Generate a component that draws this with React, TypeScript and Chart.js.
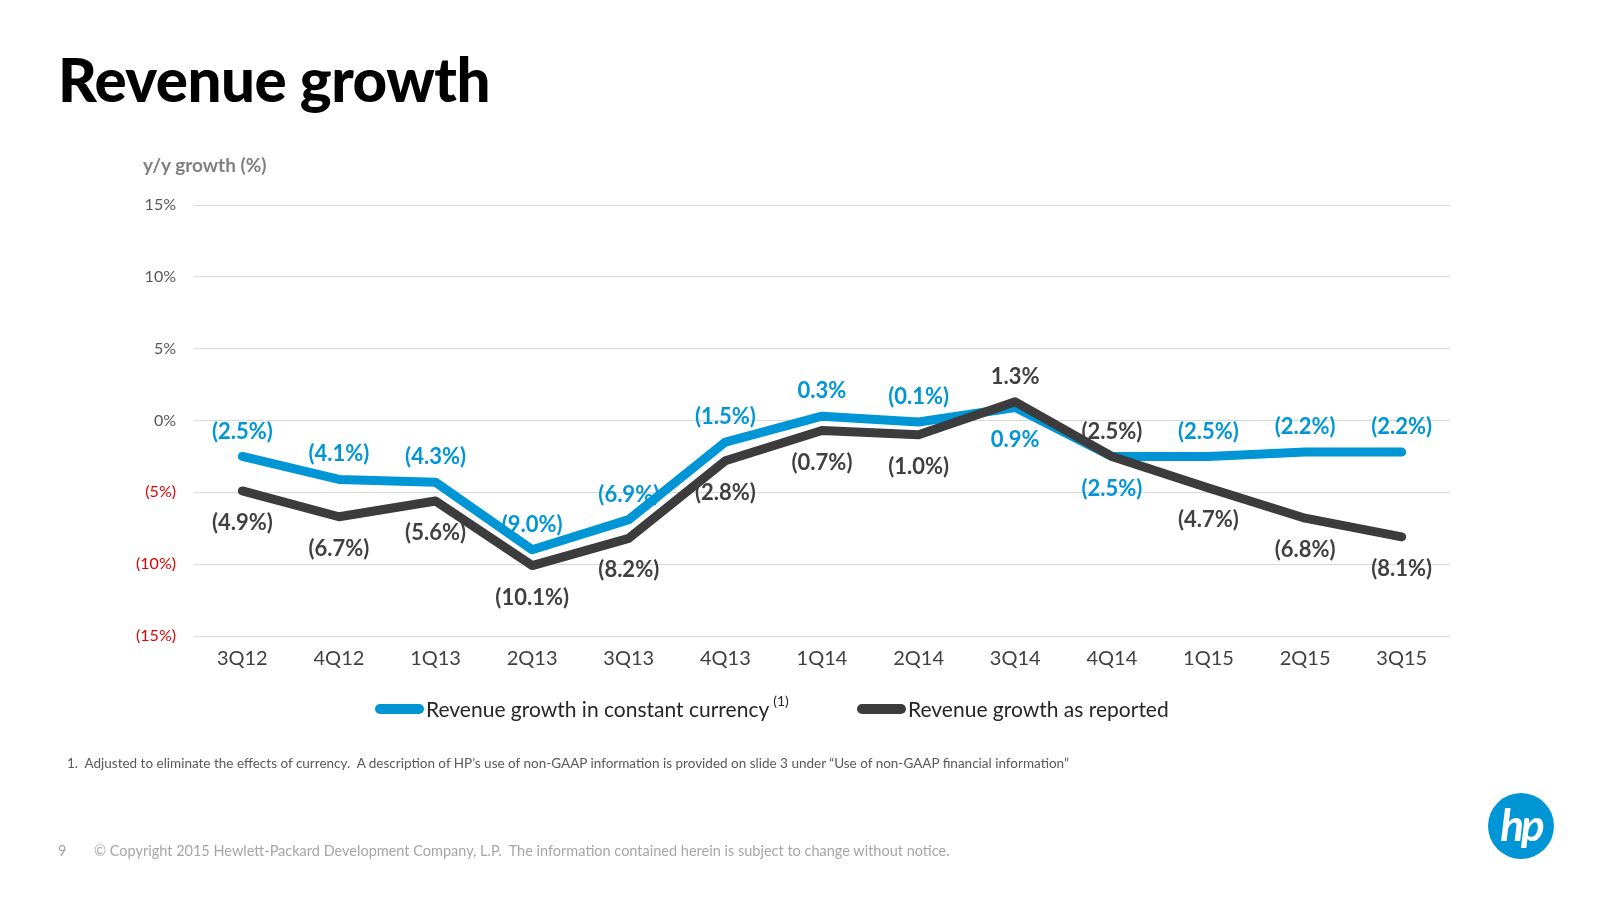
import React, { useEffect, useRef } from "react";
import { Chart, registerables } from "chart.js";

Chart.register(...registerables);

const categories = ["3Q12", "4Q12", "1Q13", "2Q13", "3Q13", "4Q13", "1Q14", "2Q14", "3Q14", "4Q14", "1Q15", "2Q15", "3Q15"];
const constantCurrency = [-2.5, -4.1, -4.3, -9.0, -6.9, -1.5, 0.3, -0.1, 0.9, -2.5, -2.5, -2.2, -2.2];
const asReported = [-4.9, -6.7, -5.6, -10.1, -8.2, -2.8, -0.7, -1.0, 1.3, -2.5, -4.7, -6.8, -8.1];
const yMin = -15;
const yMax = 15;
const yStep = 5;

const BLUE = "#0096D6";
const DARK = "#3C3C3C";
const FONT = "Lato, 'Open Sans', sans-serif";

const fmt = (v: number) => (v < 0 ? `(${Math.abs(v).toFixed(1)}%)` : `${v.toFixed(1)}%`);

const labelPlugin = {
  id: "pointLabels",
  afterDatasetsDraw(chart: any) {
    const ctx = chart.ctx;
    const sets = chart.data.datasets;
    ctx.save();
    ctx.font = `bold 22px ${FONT}`;
    ctx.textAlign = "center";
    ctx.textBaseline = "middle";
    sets.forEach((ds: any, di: number) => {
      const meta = chart.getDatasetMeta(di);
      const other = sets[1 - di].data as number[];
      meta.data.forEach((pt: any, i: number) => {
        const v = ds.data[i] as number;
        const o = other[i];
        const above = ds.tieAbove ? v >= o : v > o;
        ctx.fillStyle = ds.labelColor;
        ctx.fillText(fmt(v), pt.x, pt.y + (above ? -25 : 32));
      });
    });
    ctx.restore();
  },
};

function RevenueChart() {
  const ref = useRef<HTMLCanvasElement | null>(null);
  useEffect(() => {
    if (!ref.current) return;
    const chart = new Chart(ref.current, {
      type: "line",
      data: {
        labels: categories,
        datasets: [
          {
            label: "Revenue growth in constant currency",
            data: constantCurrency,
            borderColor: BLUE,
            backgroundColor: BLUE,
            borderWidth: 9,
            pointRadius: 0,
            borderJoinStyle: "round",
            borderCapStyle: "round",
            order: 1,
            labelColor: BLUE,
            tieAbove: false,
          } as any,
          {
            label: "Revenue growth as reported",
            data: asReported,
            borderColor: DARK,
            backgroundColor: DARK,
            borderWidth: 9,
            pointRadius: 0,
            borderJoinStyle: "round",
            borderCapStyle: "round",
            order: 0,
            labelColor: "#404040",
            tieAbove: true,
          } as any,
        ],
      },
      options: {
        animation: false,
        responsive: true,
        maintainAspectRatio: false,
        layout: { padding: { left: 0, top: 205, right: 150, bottom: 214 } },
        plugins: { legend: { display: false }, tooltip: { enabled: false } },
        scales: {
          x: {
            offset: true,
            grid: { display: false, drawTicks: false },
            border: { display: false },
            ticks: { color: "#404040", font: { family: FONT, size: 20 }, padding: 11 },
            afterFit: (s: any) => {
              s.height = 50;
            },
          },
          y: {
            min: yMin,
            max: yMax,
            grid: { color: "#D9D9D9", lineWidth: 1, drawTicks: false },
            border: { display: false },
            ticks: {
              stepSize: yStep,
              padding: 18,
              font: { family: FONT, size: 16 },
              color: (c: any) => (c.tick && c.tick.value < 0 ? "#E00000" : "#595959"),
              callback: (v: any) => (v < 0 ? `(${Math.abs(v)}%)` : `${v}%`),
            },
            afterFit: (s: any) => {
              s.width = 194;
            },
          },
        },
      },
      plugins: [labelPlugin],
    });
    return () => chart.destroy();
  }, []);
  return (
    <div style={{ position: "absolute", left: 0, top: 0, width: 1600, height: 900 }}>
      <canvas ref={ref} />
    </div>
  );
}

export default function App() {
  const legendMarker = (color: string): React.CSSProperties => ({
    display: "inline-block",
    width: 49,
    height: 10,
    borderRadius: 5,
    background: color,
    marginRight: 2,
    verticalAlign: "middle",
  });
  return (
    <div
      style={{
        position: "fixed",
        left: 0,
        top: 0,
        width: 1600,
        height: 900,
        background: "#fff",
        fontFamily: FONT,
        overflow: "hidden",
      }}
    >
      <RevenueChart />
      <div
        style={{
          position: "absolute",
          left: 58,
          top: 49,
          fontSize: 60,
          fontWeight: 900,
          lineHeight: "60px",
          letterSpacing: -0.5,
          color: "#000",
          whiteSpace: "nowrap",
        }}
      >
        Revenue growth
      </div>
      <div
        style={{
          position: "absolute",
          left: 143,
          top: 155,
          fontSize: 19,
          fontWeight: 700,
          lineHeight: "20px",
          color: "#808080",
          whiteSpace: "nowrap",
        }}
      >
        y/y growth (%)
      </div>
      <div
        style={{
          position: "absolute",
          left: 375,
          top: 692,
          height: 28,
          lineHeight: "28px",
          fontSize: 21,
          color: "#262626",
          whiteSpace: "nowrap",
        }}
      >
        <span style={legendMarker(BLUE)} />
        <span style={{ verticalAlign: "middle" }}>Revenue growth in constant currency</span>
        <span style={{ fontSize: 14, verticalAlign: "top", position: "relative", top: -5, marginLeft: 4 }}>(1)</span>
      </div>
      <div
        style={{
          position: "absolute",
          left: 857,
          top: 692,
          height: 28,
          lineHeight: "28px",
          fontSize: 21,
          color: "#262626",
          whiteSpace: "nowrap",
        }}
      >
        <span style={legendMarker(DARK)} />
        <span style={{ verticalAlign: "middle" }}>Revenue growth as reported</span>
      </div>
      <div
        style={{
          position: "absolute",
          left: 67,
          top: 754,
          fontSize: 13.5,
          lineHeight: "18px",
          color: "#595959",
          whiteSpace: "nowrap",
        }}
      >
        1.&nbsp; Adjusted to eliminate the effects of currency.&nbsp; A description of HP’s use of non-GAAP information is
        provided on slide 3 under “Use of non-GAAP financial information”
      </div>
      <div
        style={{
          position: "absolute",
          left: 58,
          top: 842,
          fontSize: 14.5,
          lineHeight: "18px",
          color: "#A6A6A6",
          whiteSpace: "nowrap",
        }}
      >
        9
      </div>
      <div
        style={{
          position: "absolute",
          left: 94,
          top: 842,
          fontSize: 14.5,
          lineHeight: "18px",
          color: "#A6A6A6",
          whiteSpace: "nowrap",
        }}
      >
        © Copyright 2015 Hewlett-Packard Development Company, L.P.&nbsp; The information contained herein is subject to
        change without notice.
      </div>
      <div
        style={{
          position: "absolute",
          left: 1488,
          top: 793,
          width: 66,
          height: 66,
          borderRadius: "50%",
          background: BLUE,
          color: "#fff",
          fontSize: 44,
          fontWeight: 700,
          fontStyle: "italic",
          lineHeight: "62px",
          textAlign: "center",
          letterSpacing: -3,
        }}
      >
        hp
      </div>
    </div>
  );
}
